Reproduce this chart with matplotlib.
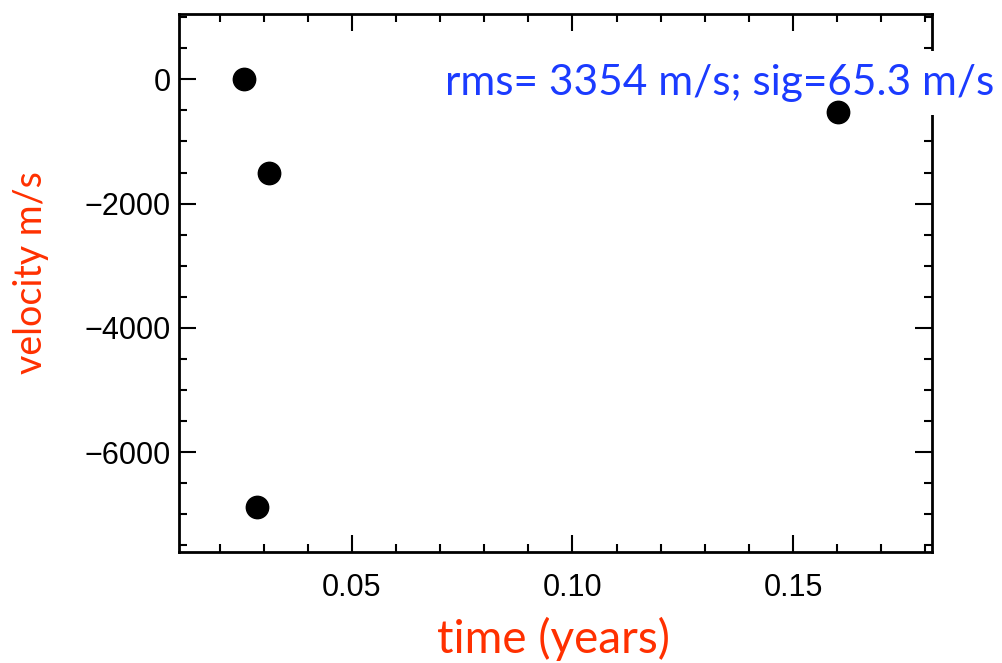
import numpy as np
import matplotlib
matplotlib.use("Agg")
import matplotlib.pyplot as plt
from matplotlib.ticker import MultipleLocator

# data
time_years = [0.0256, 0.0312, 0.0285, 0.1601]
velocity = [0, -1503, -6887, -521]

x_ticks = [0.05, 0.10, 0.15]
x_tick_labels = ["0.05", "0.10", "0.15"]
y_ticks = [0, -2000, -4000, -6000]
y_tick_labels = ["0", "\u22122000", "\u22124000", "\u22126000"]

note = "rms= 3354 m/s; sig=65.3 m/s"
red = "#ff3000"
blue = "#1b3bff"

fig = plt.figure(figsize=(10.03, 6.63), dpi=100)
ax = fig.add_axes([0.1785, 0.1674, 0.7507, 0.8115])

ax.scatter(time_years, velocity, s=260, color="black", zorder=3, clip_on=False)

ax.set_xlim(0.0108, 0.1815)
ax.set_ylim(-7606, 1051)

ax.set_xticks(x_ticks)
ax.set_xticklabels(x_tick_labels, family="Liberation Sans", fontsize=22)
ax.set_yticks(y_ticks)
ax.set_yticklabels(y_tick_labels, family="Liberation Sans", fontsize=22)
ax.xaxis.set_minor_locator(MultipleLocator(0.01))
ax.yaxis.set_minor_locator(MultipleLocator(500))

ax.tick_params(which="both", direction="in", top=True, right=True, width=1.5)
ax.tick_params(which="major", length=12)
ax.tick_params(which="minor", length=6)
ax.tick_params(axis="x", pad=15)
ax.tick_params(axis="y", pad=6)
for sp in ax.spines.values():
    sp.set_linewidth(2)

# axis titles, placed where the reference has them
ax.set_xlabel("time (years)", family="Lato", fontsize=33, color=red, va="baseline")
ax.xaxis.set_label_coords(0.4967, -0.1877)
ax.set_ylabel("velocity m/s", family="Lato", fontsize=27, color=red, va="center")
ax.yaxis.set_label_coords(-0.1972, 0.5195)

# white box hides the right spine, the dot stays on top
ax.text(0.4437, 0.8567, note, transform=fig.transFigure, family="Lato",
        fontsize=30.5, color=blue, ha="left", va="baseline", zorder=2.8,
        clip_on=False, bbox=dict(facecolor="white", edgecolor="none", pad=9))

fig.savefig("out.png", dpi=100)
